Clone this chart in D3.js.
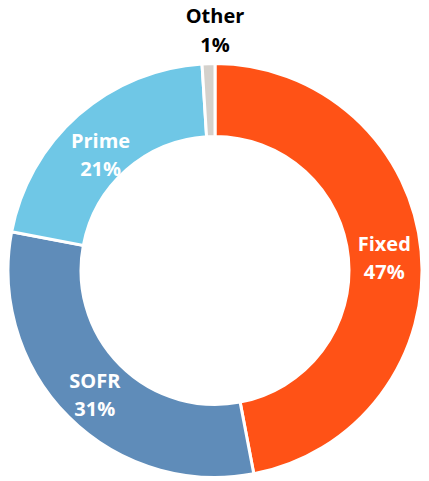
<!DOCTYPE html>
<html lang="en">
<head>
<meta charset="UTF-8">
<title>Rate mix</title>
<script src="https://d3js.org/d3.v7.min.js"></script>
<style>
  body { margin: 0; background: #fff; }
  text { font-family: "Open Sans", sans-serif; font-weight: 700; }
</style>
</head>
<body>
<div id="chart"></div>
<script>
// data
const categories = ["Fixed", "SOFR", "Prime", "Other"];
const shares = [47, 31, 21, 1];
const colors = ["#FF5216", "#5F8CB9", "#6FC7E6", "#D4D1CC"];

const width = 429, height = 481;
const cx = 215, cy = 270.5;
const outerR = 207, innerR = 134;

const svg = d3.select("#chart").append("svg")
    .attr("width", width)
    .attr("height", height);

const g = svg.append("g").attr("transform", `translate(${cx},${cy})`);

const pie = d3.pie().sort(null).value(d => d.v);
const arcs = pie(categories.map((c, i) => ({ name: c, v: shares[i], color: colors[i] })));

const arc = d3.arc().innerRadius(innerR).outerRadius(outerR);
const labelArc = d3.arc().innerRadius(170).outerRadius(170);

g.selectAll("path")
  .data(arcs)
  .join("path")
    .attr("d", arc)
    .attr("fill", d => d.data.color)
    .attr("stroke", "#fff")
    .attr("stroke-width", 3);

// labels inside the ring (Prime sits a little lower, as in the original)
const nudge = { Fixed: [0, 0], SOFR: [0, 1], Prime: [-2, 9] };
const inside = arcs.filter(d => d.data.name !== "Other");
const lbl = g.selectAll("text.lbl")
  .data(inside)
  .join("text")
    .attr("class", "lbl")
    .attr("text-anchor", "middle")
    .attr("fill", "#fff")
    .style("font-size", "20px")
    .attr("transform", d => {
      const [x, y] = labelArc.centroid(d);
      const [nx, ny] = nudge[d.data.name];
      return `translate(${x + nx},${y + ny})`;
    });
lbl.append("tspan").attr("x", 0).attr("y", -4).text(d => d.data.name);
lbl.append("tspan").attr("x", 0).attr("y", 24).text(d => d.data.v + "%");

// "Other" label sits above the ring
const other = arcs.find(d => d.data.name === "Other");
const ot = svg.append("text")
    .attr("text-anchor", "middle")
    .attr("fill", "#000")
    .style("font-size", "20px");
ot.append("tspan").attr("x", cx).attr("y", 23).text(other.data.name);
ot.append("tspan").attr("x", cx).attr("y", 52).text(other.data.v + "%");
</script>
</body>
</html>
